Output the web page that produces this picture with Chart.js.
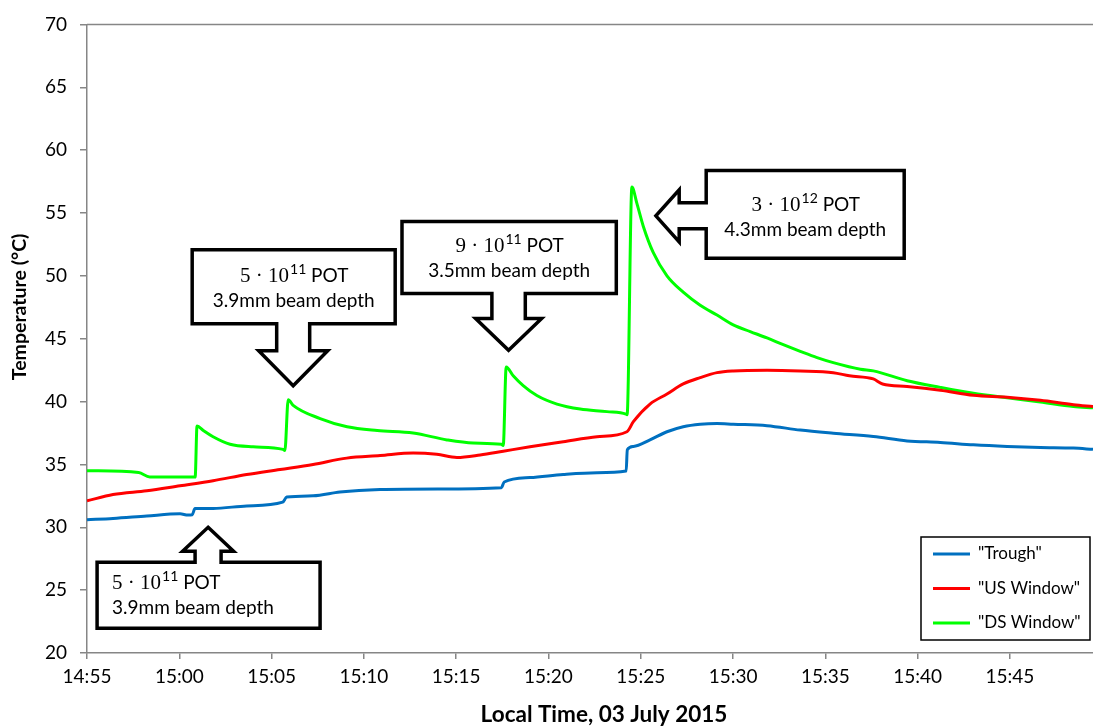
<!DOCTYPE html>
<html>
<head>
<meta charset="utf-8">
<script src="https://cdn.jsdelivr.net/npm/chart.js@4.4.1/dist/chart.umd.min.js"></script>
<style>
  html, body { margin: 0; padding: 0; background: #fff; }
  #wrap { width: 1093px; height: 728px; }
</style>
</head>
<body>
<div id="wrap"><canvas id="chart"></canvas></div>
<script>
// Thermocouple readings, 03 July 2015. Times are minutes after 14:55.
const START_CLOCK = '14:55';
const timeTickLabels = ['14:55', '15:00', '15:05', '15:10', '15:15', '15:20', '15:25', '15:30', '15:35', '15:40', '15:45'];
const tempTicks = [20, 25, 30, 35, 40, 45, 50, 55, 60, 65, 70];
const seriesNames = ['"Trough"', '"US Window"', '"DS Window"'];
const xTitle = 'Local Time, 03 July 2015';
const yTitle = 'Temperature (°C)';

const troughMinutes = [0, 1.41, 3.24, 5.04, 5.47, 5.7, 5.85, 6.83, 8.65, 10.6, 10.82, 12.25, 13.7, 15.88, 19.0, 22.45, 22.6, 24.0, 25.8, 27.63, 29.21, 29.27, 29.6, 30.5, 31.42, 32.3, 33.22, 34.13, 35.01, 36.84, 38.64, 40.43, 42.6, 44.43, 46.23, 48.02, 49.85, 51.65, 53.44, 54.5];
const troughTemps = [30.6, 30.7, 30.9, 31.07, 30.97, 31.0, 31.5, 31.5, 31.7, 32.0, 32.4, 32.5, 32.8, 33.0, 33.05, 33.15, 33.6, 33.95, 34.2, 34.34, 34.47, 36.17, 36.43, 36.95, 37.6, 38.0, 38.2, 38.26, 38.2, 38.08, 37.73, 37.48, 37.22, 36.87, 36.75, 36.56, 36.43, 36.35, 36.3, 36.2];

const usMinutes = [0, 1.41, 3.24, 5.04, 6.83, 8.65, 10.46, 12.25, 14.07, 15.88, 17.67, 18.95, 20.04, 21.3, 22.55, 24.0, 25.8, 27.63, 29.25, 29.6, 30.5, 31.42, 32.3, 33.22, 34.13, 35.01, 36.84, 38.64, 40.43, 41.3, 42.6, 43.1, 44.43, 46.23, 48.02, 49.85, 51.65, 53.44, 54.5];
const usTemps = [32.1, 32.6, 32.9, 33.3, 33.7, 34.2, 34.6, 35.0, 35.5, 35.7, 35.9, 35.8, 35.55, 35.75, 36.05, 36.4, 36.8, 37.2, 37.6, 38.4, 39.8, 40.6, 41.4, 41.9, 42.3, 42.44, 42.5, 42.44, 42.3, 42.05, 41.8, 41.4, 41.2, 40.9, 40.5, 40.35, 40.1, 39.75, 39.6];

const dsMinutes = [0, 2.8, 3.4, 5.8, 5.86, 5.96, 6.3, 6.83, 7.75, 9.0, 10.62, 10.72, 10.9, 11.17, 12.63, 14.09, 15.72, 17.67, 19.5, 20.92, 22.45, 22.55, 22.71, 23.09, 23.63, 24.37, 25.46, 26.72, 28.17, 29.2, 29.26, 29.52, 29.79, 30.14, 30.68, 31.42, 32.3, 33.22, 34.13, 35.01, 35.93, 36.84, 37.72, 38.64, 39.55, 40.43, 41.9, 42.6, 44.43, 46.23, 48.02, 49.85, 51.65, 53.44, 54.5];
const dsTemps = [34.5, 34.35, 34.0, 34.0, 34.0, 38.05, 37.7, 37.2, 36.6, 36.4, 36.2, 36.1, 40.15, 39.7, 38.65, 38.0, 37.7, 37.5, 36.95, 36.7, 36.6, 36.5, 42.75, 42.05, 41.27, 40.48, 39.8, 39.4, 39.2, 39.0, 38.95, 57.07, 55.76, 53.93, 51.84, 50.0, 48.7, 47.66, 46.88, 46.1, 45.57, 45.06, 44.53, 44.0, 43.5, 43.1, 42.57, 42.44, 41.66, 41.13, 40.66, 40.3, 39.96, 39.6, 39.5];

// Beam pulses: where each arrow points (minutes, °C) and what it says
const pulseMinutes = [6.56, 11.17, 22.84, 30.82];
const pulseTemps = [30.0, 41.26, 44.08, 54.77];
const pulseMantissa = ['5', '5', '9', '3'];
const pulseExponent = ['11', '11', '11', '12'];
const pulseDepths = ['3.9mm beam depth', '3.9mm beam depth', '3.5mm beam depth', '4.3mm beam depth'];

const TIME_END = 54.5;

function clockToMinutes(s) {
  const [h, m] = s.split(':').map(Number);
  const [h0, m0] = START_CLOCK.split(':').map(Number);
  return (h * 60 + m) - (h0 * 60 + m0);
}
function minutesToClock(v) {
  const [h0, m0] = START_CLOCK.split(':').map(Number);
  const tot = h0 * 60 + m0 + Math.round(v);
  const h = Math.floor(tot / 60), m = tot % 60;
  return h + ':' + String(m).padStart(2, '0');
}
const zip = (xs, ys) => xs.map((x, i) => ({ x, y: ys[i] }));

const SANS = 'Lato, "Open Sans", sans-serif';
const SERIF = '"Liberation Serif", "DejaVu Serif", serif';
const AXIS_GREY = '#868686';

// Box-and-arrow callouts. Local frame: u runs from the tip back toward the box,
// v runs across the arrow. dir tells which way the arrow points on screen.
const calloutShapes = [
  { dir: 'up',   gap: 35,   depth: 66,  v0: -111,  v1: 112,   stem: 13,   head: 25.5, headBase: 24,   align: 'left',   base: [-6.3, 18.7] },
  { dir: 'down', gap: 62,   depth: 74,  v0: -101,  v1: 102,   stem: 16.5, head: 34.5, headBase: 35,   align: 'center', base: [-4.7, 20.3] },
  { dir: 'down', gap: 56.7, depth: 72,  v0: -106.6, v1: 107.7, stem: 16.7, head: 33,  headBase: 31.7, align: 'center', base: [-5.3, 19.7] },
  { dir: 'left', gap: 50.3, depth: 198, v0: -45.3, v1: 42.4,  stem: 13,   head: 26,   headBase: 23.3, align: 'center', base: [-3.6, 21.4] }
];

function toScreen(dir, tx, ty, u, v) {
  if (dir === 'down') return [tx + v, ty - u];
  if (dir === 'up') return [tx + v, ty + u];
  return [tx + u, ty + v]; // left-pointing arrow, box on the right
}

function drawDoseLine(ctx, x, y, mant, exp, align) {
  const mainFont = '21px ' + SERIF;
  const supFont = '14px ' + SANS;
  const potFont = '19px ' + SANS;
  ctx.font = mainFont; const w1 = ctx.measureText(mant + ' \u00B7 10').width;
  ctx.font = supFont; const w2 = ctx.measureText(exp).width;
  ctx.font = potFont; const w3 = ctx.measureText(' POT').width;
  const total = w1 + w2 + w3;
  let sx = align === 'center' ? x - total / 2 : x;
  ctx.textAlign = 'left';
  ctx.textBaseline = 'alphabetic';
  ctx.font = mainFont; ctx.fillText(mant + ' \u00B7 10', sx, y); sx += w1 + 1;
  ctx.font = supFont; ctx.fillText(exp, sx, y - 8); sx += w2;
  ctx.font = potFont; ctx.fillText(' POT', sx, y);
}

const calloutPlugin = {
  id: 'pulseCallouts',
  afterDatasetsDraw(chart) {
    const { ctx, scales } = chart;
    ctx.save();
    pulseMinutes.forEach((t, i) => {
      const s = calloutShapes[i];
      const tx = scales.x.getPixelForValue(t);
      const ty = scales.y.getPixelForValue(pulseTemps[i]);
      const near = s.gap, far = s.gap + s.depth;
      const pts = [
        [0, 0], [s.headBase, s.head], [s.headBase, s.stem], [near, s.stem],
        [near, s.v1], [far, s.v1], [far, s.v0], [near, s.v0],
        [near, -s.stem], [s.headBase, -s.stem], [s.headBase, -s.head]
      ].map(([u, v]) => toScreen(s.dir, tx, ty, u, v));
      ctx.beginPath();
      pts.forEach(([x, y], k) => (k ? ctx.lineTo(x, y) : ctx.moveTo(x, y)));
      ctx.closePath();
      ctx.fillStyle = '#fff';
      ctx.fill();
      ctx.lineWidth = 3.5;
      ctx.lineJoin = 'miter';
      ctx.strokeStyle = '#000';
      ctx.stroke();

      // text block placement inside the box
      const c1 = toScreen(s.dir, tx, ty, near, s.v0);
      const c2 = toScreen(s.dir, tx, ty, far, s.v1);
      const left = Math.min(c1[0], c2[0]), right = Math.max(c1[0], c2[0]);
      const top = Math.min(c1[1], c2[1]), bottom = Math.max(c1[1], c2[1]);
      const cy = (top + bottom) / 2;
      const x = s.align === 'left' ? left + 15 : (left + right) / 2;
      ctx.fillStyle = '#000';
      drawDoseLine(ctx, x, cy + s.base[0], pulseMantissa[i], pulseExponent[i], s.align);
      ctx.font = '19px ' + SANS;
      ctx.textAlign = s.align;
      ctx.textBaseline = 'alphabetic';
      ctx.fillText(pulseDepths[i], x, cy + s.base[1]);
    });
    ctx.restore();
  }
};

// Top frame line, axis titles and the boxed legend in the lower right
const framePlugin = {
  id: 'frameAndLegend',
  afterDraw(chart) {
    const { ctx, chartArea } = chart;
    ctx.save();
    ctx.strokeStyle = AXIS_GREY;
    ctx.lineWidth = 1.5;
    ctx.beginPath();
    ctx.moveTo(chartArea.left, chartArea.top);
    ctx.lineTo(chartArea.right, chartArea.top);
    ctx.stroke();

    // axis titles
    ctx.fillStyle = '#000';
    ctx.textAlign = 'center';
    ctx.textBaseline = 'middle';
    ctx.font = 'bold 22.5px ' + SANS;
    ctx.fillText(xTitle, chartArea.left + 517, chart.height - 13);
    ctx.save();
    ctx.translate(20, chartArea.top + 282.5);
    ctx.rotate(-Math.PI / 2);
    ctx.font = 'bold 19.5px ' + SANS;
    ctx.fillText(yTitle, 0, 0);
    ctx.restore();

    const bx = chartArea.right - 172, by = chartArea.bottom - 116, bw = 169, bh = 103;
    ctx.fillStyle = '#fff';
    ctx.fillRect(bx, by, bw, bh);
    ctx.strokeStyle = '#000';
    ctx.lineWidth = 1.5;
    ctx.strokeRect(bx, by, bw, bh);
    ctx.font = '17px ' + SANS;
    ctx.textAlign = 'left';
    ctx.textBaseline = 'middle';
    chart.data.datasets.forEach((ds, i) => {
      const y = by + 17 + i * 34.5;
      ctx.strokeStyle = ds.borderColor;
      ctx.lineWidth = 3;
      ctx.beginPath();
      ctx.moveTo(bx + 12, y);
      ctx.lineTo(bx + 49, y);
      ctx.stroke();
      ctx.fillStyle = '#000';
      ctx.fillText(ds.label, bx + 57, y);
    });
    ctx.restore();
  }
};

const lineStyle = { borderWidth: 3, pointRadius: 0, cubicInterpolationMode: 'monotone', fill: false };

new Chart(document.getElementById('chart'), {
  type: 'line',
  data: {
    datasets: [
      { label: seriesNames[0], data: zip(troughMinutes, troughTemps), borderColor: '#0070C0', ...lineStyle },
      { label: seriesNames[1], data: zip(usMinutes, usTemps), borderColor: '#FF0000', ...lineStyle },
      { label: seriesNames[2], data: zip(dsMinutes, dsTemps), borderColor: '#00FF00', ...lineStyle }
    ]
  },
  options: {
    responsive: true,
    maintainAspectRatio: false,
    animation: false,
    layout: { padding: { left: 0, right: 0, top: 15, bottom: 0 } },
    plugins: { legend: { display: false }, tooltip: { enabled: false } },
    scales: {
      x: {
        type: 'linear',
        min: 0,
        max: TIME_END,
        afterBuildTicks(scale) {
          scale.ticks = timeTickLabels.map(l => ({ value: clockToMinutes(l) }));
        },
        afterFit(scale) { scale.height = 75; },
        ticks: {
          color: '#000',
          font: { family: SANS, size: 19 },
          padding: 6,
          maxRotation: 0,
          autoSkip: false,
          callback: v => minutesToClock(v)
        },
        grid: { drawOnChartArea: false, drawTicks: true, tickLength: 6, color: AXIS_GREY, lineWidth: 1.5 },
        border: { display: true, color: AXIS_GREY, width: 1.5 },
        title: { display: false }
      },
      y: {
        min: 20,
        max: 70,
        afterBuildTicks(scale) {
          scale.ticks = tempTicks.map(v => ({ value: v }));
        },
        afterFit(scale) { scale.width = 87; },
        ticks: {
          color: '#000',
          font: { family: SANS, size: 19 },
          padding: 13
        },
        grid: { drawOnChartArea: false, drawTicks: true, tickLength: 7, color: AXIS_GREY, lineWidth: 1.5 },
        border: { display: true, color: AXIS_GREY, width: 1.5 },
        title: { display: false }
      }
    }
  },
  plugins: [calloutPlugin, framePlugin]
});
</script>
</body>
</html>
